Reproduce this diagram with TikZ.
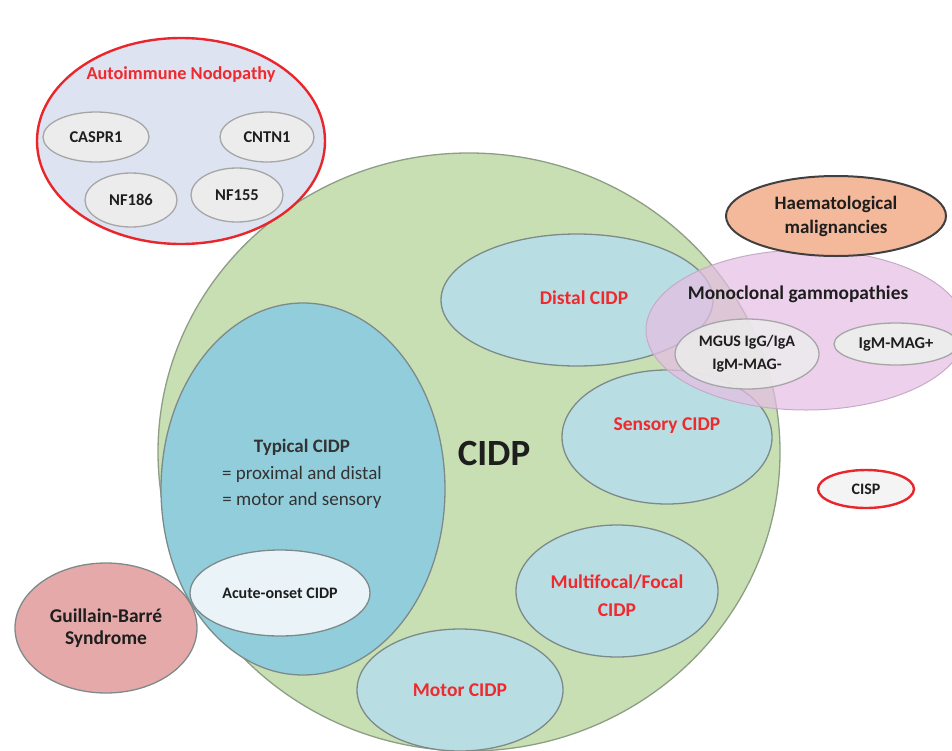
\documentclass[tikz,border=0pt]{standalone}
\usepackage{fontspec}
\setmainfont{Carlito}
\usetikzlibrary{shapes.geometric}
\definecolor{cidpgreen}{HTML}{C7DFB2}
\definecolor{greenedge}{HTML}{8E9E86}
\definecolor{typblue}{HTML}{92CDDC}
\definecolor{subteal}{HTML}{B8DEE3}
\definecolor{acutefill}{HTML}{EAF4F8}
\definecolor{gbsfill}{HTML}{E6A9A9}
\definecolor{haemfill}{HTML}{F4B89B}
\definecolor{monofill}{HTML}{E6BEE4}
\definecolor{nodofill}{HTML}{DDE3F1}
\definecolor{chipfill}{HTML}{ECECEC}
\definecolor{edgegray}{HTML}{7E8A8A}
\definecolor{redline}{HTML}{E8262B}
\definecolor{redtext}{HTML}{EE2A2F}
\definecolor{darktext}{HTML}{1E1E1E}
\begin{document}
\begin{tikzpicture}[x=1pt,y=-1pt,
  blob/.style={ellipse, draw=edgegray, line width=1.3pt, inner sep=0pt, align=center,
    text=darktext, font=\bfseries\fontsize{16}{23}\selectfont},
  chip/.style={blob, fill=chipfill, draw=gray!70, font=\bfseries\fontsize{16.5}{20}\selectfont},
  sub/.style={blob, fill=subteal, text=redtext, font=\bfseries\fontsize{19.5}{28}\selectfont},
  lbl/.style={inner sep=0pt, align=center, text=darktext, font=\bfseries\fontsize{19}{24}\selectfont}]
\useasboundingbox (0,0) rectangle (952,750);
\begin{scope}
\clip (0,0) rectangle (952,750);
% main CIDP circle
\node[blob, fill=cidpgreen, draw=greenedge, minimum width=622pt, minimum height=598pt] (cidp) at (469,452) {};
\node[lbl, font=\bfseries\fontsize{37}{42}\selectfont] (cidptxt) at (494,453) {CIDP};
% typical CIDP
\node[blob, fill=typblue, minimum width=284pt, minimum height=372pt] (typ) at (303,489) {};
\node[lbl, font=\fontsize{19}{26.5}\selectfont, text=black!80] (typtxt) at (302,474)
  {\textbf{Typical CIDP}\\= proximal and distal\\= motor and sensory};
\node[blob, fill=acutefill, minimum width=180pt, minimum height=86pt] (acute) at (280,593) {Acute-onset CIDP};
% variants
\node[sub, minimum width=272pt, minimum height=132pt] (distal) at (577,300) {};
\node[lbl, text=redtext, font=\bfseries\fontsize{19.5}{28}\selectfont] (distaltxt) at (584,298) {Distal CIDP};
\node[sub, minimum width=210pt, minimum height=134pt] (sensory) at (667,437) {};
\node[lbl, text=redtext, font=\bfseries\fontsize{19.5}{28}\selectfont] (sensorytxt) at (667,426) {Sensory CIDP};
\node[sub, minimum width=202pt, minimum height=132pt] (multi) at (617,591) {};
\node[lbl, text=redtext, font=\bfseries\fontsize{19.5}{28}\selectfont] (multitxt) at (617,596) {Multifocal/Focal\\CIDP};
\node[sub, minimum width=206pt, minimum height=122pt] (motor) at (460,690) {Motor CIDP};
% GBS
\node[blob, fill=gbsfill, minimum width=182pt, minimum height=130pt, font=\bfseries\fontsize{19.5}{22}\selectfont] (gbs) at (106,628) {Guillain-Barré\\Syndrome};
% autoimmune nodopathy
\node[ellipse, draw=redline, line width=2.4pt, fill=nodofill, minimum width=288pt, minimum height=206pt] (nodo) at (181,141) {};
\node[lbl, text=redtext, font=\bfseries\fontsize{18.3}{24}\selectfont] (nodotxt) at (181,75) {Autoimmune Nodopathy};
\node[chip, minimum width=106pt, minimum height=50pt] (caspr) at (96,137) {CASPR1};
\node[chip, minimum width=94pt, minimum height=50pt] (cntn) at (267,137) {CNTN1};
\node[chip, minimum width=92pt, minimum height=54pt] (nf186) at (131,200) {NF186};
\node[chip, minimum width=92pt, minimum height=54pt] (nf155) at (237,195) {NF155};
% monoclonal gammopathies
\node[ellipse, fill=monofill, fill opacity=0.72, draw=monofill!70!gray, line width=1pt, minimum width=320pt, minimum height=160pt] (mono) at (806,330) {};
\node[lbl, font=\bfseries\fontsize{19.4}{24}\selectfont] (monotxt) at (798,294) {Monoclonal gammopathies};
\node[chip, fill opacity=0.85, text opacity=1, minimum width=144pt, minimum height=70pt, font=\bfseries\fontsize{16}{23}\selectfont] (mgus) at (747,354) {MGUS IgG/IgA\\IgM-MAG-};
\node[chip, minimum width=124pt, minimum height=42pt, font=\bfseries\fontsize{16.5}{20}\selectfont] (igm) at (896,344) {IgM-MAG+};
% haematological malignancies
\node[blob, fill=haemfill, draw=black!75, line width=2pt, minimum width=220pt, minimum height=80pt, font=\bfseries\fontsize{19}{24}\selectfont] (haem) at (836,216) {Haematological\\malignancies};
% CISP
\node[ellipse, draw=redline, line width=2.4pt, fill=chipfill!60, inner sep=0pt, minimum width=96pt, minimum height=38pt, text=darktext, font=\bfseries\fontsize{16}{18}\selectfont] (cisp) at (866,489) {CISP};
\end{scope}
\end{tikzpicture}
\end{document}
